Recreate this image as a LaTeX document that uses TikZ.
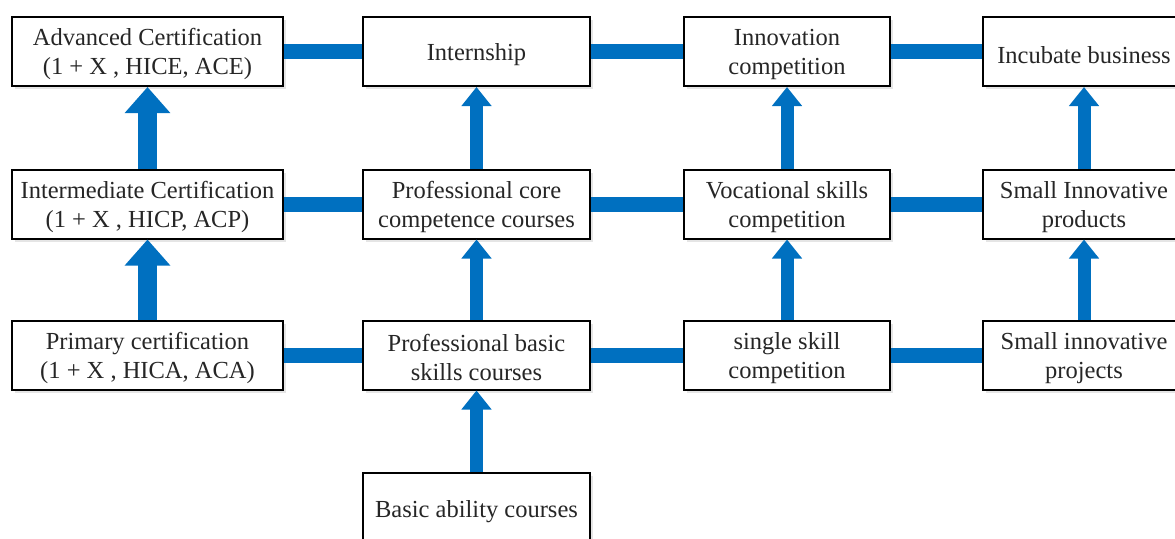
\documentclass[tikz,border=0pt]{standalone}
\usepackage{fontspec}
\setmainfont{Liberation Serif}
\usetikzlibrary{arrows.meta,shadows}
\definecolor{flowblue}{HTML}{0070C0}
\definecolor{inkgray}{HTML}{262626}
% taller first line, so that the text sits a little lower in its box
\newcommand\liftline{\rule{0pt}{23pt}}
\begin{document}
\begin{tikzpicture}[x=1pt,y=-1pt,
  box/.style={draw=black, line width=2pt, fill=white, rectangle, align=center,
    inner sep=0pt, text=inkgray, font=\fontsize{24.5}{29}\selectfont,
    drop shadow={shadow xshift=3pt, shadow yshift=-3pt, fill=black!10, opacity=1}},
  single/.style={execute at begin node={\rule{0pt}{23.5pt}}},
  colA/.style={box, minimum width=271pt, minimum height=69pt},
  colB/.style={box, minimum width=227pt, minimum height=69pt},
  colC/.style={box, minimum width=206pt, minimum height=69pt},
  colD/.style={box, minimum width=202pt, minimum height=69pt},
  link/.style={draw=flowblue, line width=15pt},
  bigup/.style={draw=flowblue, line width=19pt, -{Triangle[length=26pt,width=44pt]}, flowblue},
  up/.style={draw=flowblue, line width=13pt, -{Triangle[length=19pt,width=29pt]}, flowblue}]
\useasboundingbox (0,0) rectangle (1175,538);
\clip (0,0) rectangle (1175,538);

% certification column
\node[colA] (a1) at (147.5,51.5) {\liftline Advanced Certification\\(1 + X , HICE, ACE)};
\node[colA] (a2) at (147.5,204) {\liftline Intermediate Certification\\(1 + X , HICP, ACP)};
\node[colA] (a3) at (147.5,355) {\liftline Primary certification\\(1 + X , HICA, ACA)};

% course column
\node[colB, single] (b1) at (476.5,51.5) {Internship};
\node[colB] (b2) at (476.5,204) {\liftline Professional core\\competence courses};
\node[colB] (b3) at (476.5,355) {\liftline Professional basic\\skills courses};
\node[colB, single, minimum height=70pt] (b4) at (476.5,508) {Basic ability courses};

% competition column
\node[colC] (c1) at (787,51.5) {\liftline Innovation\\competition};
\node[colC] (c2) at (787,204) {\liftline Vocational skills\\competition};
\node[colC] (c3) at (787,355) {\liftline single skill\\competition};

% innovation column
\node[colD, single] (d1) at (1084,51.5) {Incubate business};
\node[colD] (d2) at (1084,204) {\liftline Small Innovative\\products};
\node[colD] (d3) at (1084,355) {\liftline Small innovative\\projects};

% horizontal links between columns
\foreach \r in {1,2,3}{
  \draw[link] (a\r.east) -- (b\r.west);
  \draw[link] (b\r.east) -- (c\r.west);
  \draw[link] (c\r.east) -- (d\r.west);
}

% upward progression arrows
\draw[bigup] (a3.north) -- (a2.south);
\draw[bigup] (a2.north) -- (a1.south);
\draw[up] (b4.north) -- (b3.south);
\draw[up] (b3.north) -- (b2.south);
\draw[up] (b2.north) -- (b1.south);
\draw[up] (c3.north) -- (c2.south);
\draw[up] (c2.north) -- (c1.south);
\draw[up] (d3.north) -- (d2.south);
\draw[up] (d2.north) -- (d1.south);
\end{tikzpicture}
\end{document}
